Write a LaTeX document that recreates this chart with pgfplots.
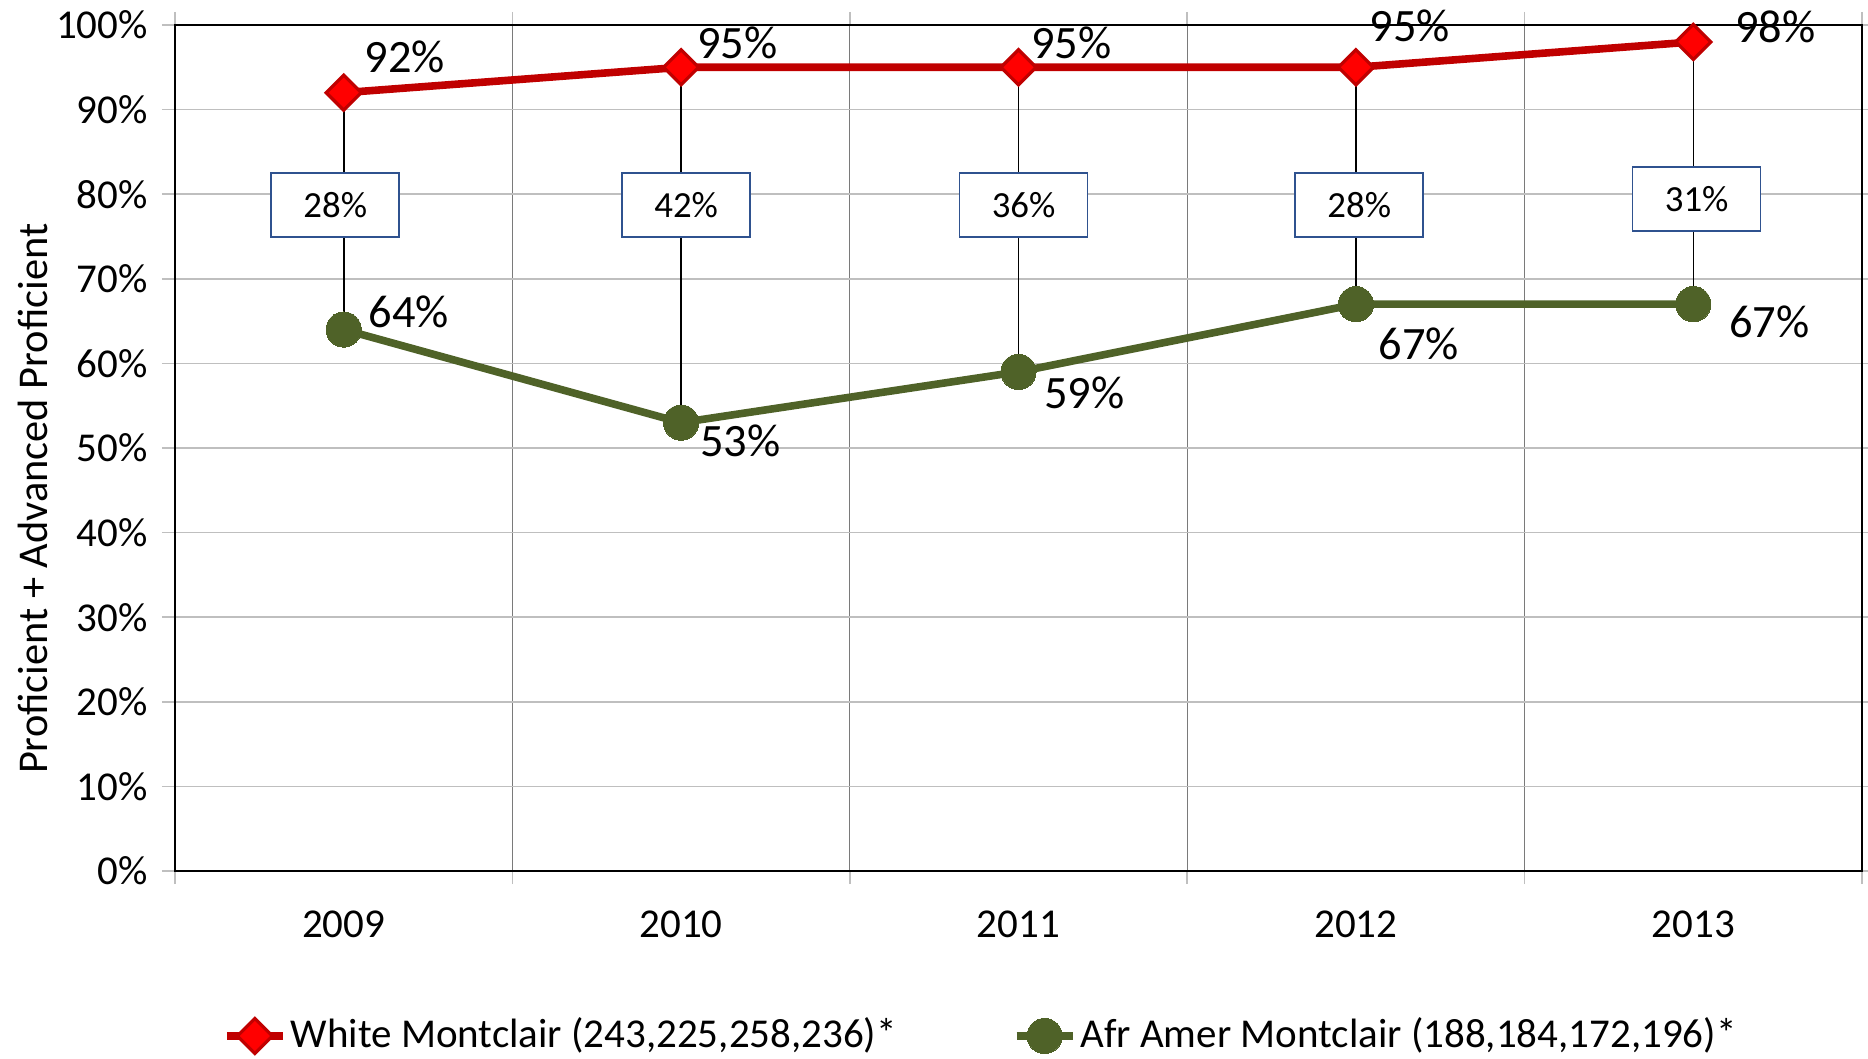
\documentclass[border=0pt]{standalone}
\usepackage{fontspec}
\setmainfont{Carlito}
\usepackage{pgfplots}
\pgfplotsset{compat=1.18}
\definecolor{wline}{HTML}{C00000}
\definecolor{wfill}{HTML}{FF0000}
\definecolor{aline}{HTML}{4F6228}
\definecolor{boxblue}{HTML}{2F528F}
\definecolor{hgrid}{HTML}{BFBFBF}
\definecolor{vgrid}{HTML}{7A7A7A}

\begin{document}
\begin{tikzpicture}
\begin{axis}[
  name=ax,
  scale only axis,
  clip=false,
  width=421.75pt, height=211.5pt,
  xmin=0.5, xmax=5.5, ymin=0, ymax=100,
  font=\fontsize{10.25}{12}\selectfont,
  axis line style={black, line width=0.6pt},
  tick align=outside,
  major tick length=3.3pt,
  every tick/.style={hgrid, line width=0.4pt},
  xtick={0.5,1.5,2.5,3.5,4.5,5.5},
  xticklabels={,,,,,},
  xmajorgrids,
  major x grid style={vgrid, line width=0.3pt},
  extra x ticks={1,2,3,4,5},
  extra x tick labels={2009,2010,2011,2012,2013},
  extra x tick style={grid=none, major tick length=0pt, xticklabel style={yshift=-6.5pt}},
  ytick={0,10,...,100},
  yticklabels={0\%,10\%,20\%,30\%,40\%,50\%,60\%,70\%,80\%,90\%,100\%},
  ymajorgrids,
  major y grid style={hgrid, line width=0.4pt},
  ylabel={Proficient + Advanced Proficient},
  ylabel style={at={(axis description cs:-0.084,0.44)}, anchor=center,
    font=\fontsize{10.6}{12}\selectfont},
  legend columns=2,
  legend style={at={(0.028,-0.195)}, anchor=west, draw=none, fill=none,
    font=\fontsize{10.25}{12}\selectfont, inner sep=0pt,
    /tikz/every even column/.append style={column sep=28pt},
    nodes={inner sep=1pt}},
  legend cell align=left,
  legend image code/.code={
    \draw[mark repeat=2, mark phase=2] plot coordinates {(0pt,0pt) (7pt,0pt) (14pt,0pt)};},
]
\addplot[wline, line width=1.9pt, mark=square*, mark size=3.1pt,
  mark options={rotate=45, fill=wfill, draw=wline, line width=0.8pt}]
  coordinates {(1,92) (2,95) (3,95) (4,95) (5,98)};
\addlegendentry{White Montclair (243,225,258,236)*}
\addplot[aline, line width=1.9pt, mark=*, mark size=4.4pt,
  mark options={fill=aline, draw=aline, line width=0pt}]
  coordinates {(1,64) (2,53) (3,59) (4,67) (5,67)};
\addlegendentry{Afr Amer Montclair (188,184,172,196)*}

% high-low lines
\addplot[black, line width=0.4pt, unbounded coords=jump, forget plot]
  coordinates {(1,92) (1,64) (1,nan) (2,95) (2,53) (2,nan) (3,95) (3,59) (3,nan)
               (4,95) (4,67) (4,nan) (5,98) (5,67)};

% gap boxes
\addplot[draw=none, mark=none, forget plot, point meta=explicit symbolic,
  nodes near coords,
  every node near coord/.append style={anchor=center, draw=boxblue, fill=white,
    line width=0.4pt, minimum width=32pt, minimum height=16pt, inner sep=0pt,
    text=black, font=\fontsize{9.2}{11}\selectfont}]
  coordinates {(0.975,78.7) [28\%] (2.015,78.7) [42\%] (3.015,78.7) [36\%]
               (4.01,78.7) [28\%] (5.01,79.4) [31\%]};

% data labels
\begin{scope}[font=\fontsize{11.6}{13}\selectfont]
\node at (axis cs:1,92) [xshift=15.25pt, yshift=9pt] {92\%};
\node at (axis cs:2,95) [xshift=14pt, yshift=6pt] {95\%};
\node at (axis cs:3,95) [xshift=13.25pt, yshift=6pt] {95\%};
\node at (axis cs:4,95) [xshift=13.5pt, yshift=10.25pt] {95\%};
\node at (axis cs:5,98) [xshift=20.5pt, yshift=3.75pt] {98\%};
\node at (axis cs:1,64) [xshift=16.25pt, yshift=4.5pt] {64\%};
\node at (axis cs:2,53) [xshift=14.75pt, yshift=-4.5pt] {53\%};
\node at (axis cs:3,59) [xshift=16.5pt, yshift=-5.25pt] {59\%};
\node at (axis cs:4,67) [xshift=15.75pt, yshift=-10pt] {67\%};
\node at (axis cs:5,67) [xshift=19pt, yshift=-4.5pt] {67\%};
\end{scope}
\end{axis}
\pgfresetboundingbox
\path[use as bounding box] ([shift={(-43.75pt,-46.75pt)}]ax.south west)
  rectangle ([shift={(1.5pt,6.25pt)}]ax.north east);
\end{tikzpicture}
\end{document}
